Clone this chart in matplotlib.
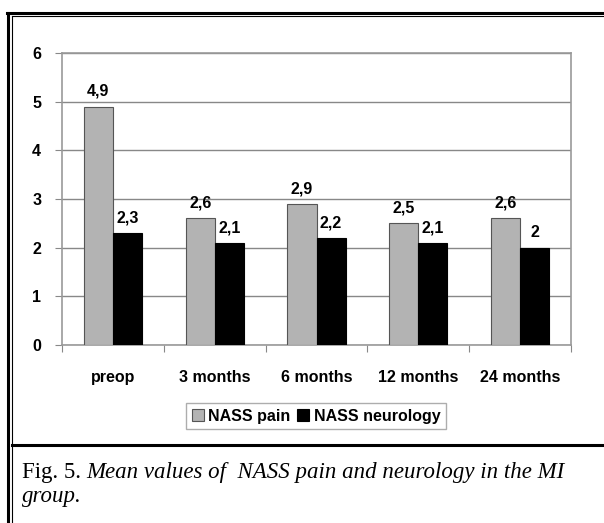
import numpy as np
import matplotlib
matplotlib.use("Agg")
import matplotlib.pyplot as plt
from matplotlib.lines import Line2D

categories = ["preop", "3 months", "6 months", "12 months", "24 months"]
nass_pain = [4.9, 2.6, 2.9, 2.5, 2.6]
nass_neurology = [2.3, 2.1, 2.2, 2.1, 2.0]
series_names = ["NASS pain", "NASS neurology"]


def fmt(v):
  s = ("%.1f" % v).rstrip("0").rstrip(".")
  return s.replace(".", ",")


def main():
  W, H = 604, 523
  fig = plt.figure(figsize=(W / 100, H / 100), dpi=100)
  narrow = ["Liberation Sans Narrow", "Liberation Sans", "DejaVu Sans"]

  ax = fig.add_axes([62 / W, 1 - 345 / H, (571 - 62) / W, (345 - 53) / H])
  x = np.arange(len(categories))
  bw = 0.285
  ax.bar(x - bw / 2, nass_pain, bw, color="#b3b3b3", edgecolor="#555555",
         linewidth=0.8, zorder=3, label=series_names[0])
  ax.bar(x + bw / 2, nass_neurology, bw, color="black", edgecolor="black",
         linewidth=0.8, zorder=3, label=series_names[1])

  for xi, v in zip(x - bw / 2, nass_pain):
    ax.annotate(fmt(v), (xi, v), xytext=(0, 11), textcoords="offset points",
                ha="center", va="center", fontsize=11.5, fontweight="bold",
                family=narrow)
  for xi, v in zip(x + bw / 2, nass_neurology):
    ax.annotate(fmt(v), (xi, v), xytext=(0, 11), textcoords="offset points",
                ha="center", va="center", fontsize=11.5, fontweight="bold",
                family=narrow)

  ax.set_xlim(-0.5, len(categories) - 0.5)
  ax.set_ylim(0, 6)
  ax.set_yticks(range(0, 7))
  ax.set_yticklabels([str(i) for i in range(0, 7)], fontsize=11.5,
                     fontweight="bold", family=narrow)
  ax.set_xticks(np.arange(-0.5, len(categories), 1.0))
  ax.set_xticklabels([])
  ax.set_xticks(x, minor=True)
  ax.set_xticklabels(categories, minor=True, fontsize=11.5, fontweight="bold",
                     family=narrow)
  ax.tick_params(axis="x", which="minor", length=0, pad=18)
  ax.tick_params(axis="x", which="major", length=5, color="#888888")
  ax.tick_params(axis="y", length=5, color="#888888", pad=10)
  ax.yaxis.grid(True, color="#888888", linewidth=1, zorder=0)
  for sp in ax.spines.values():
    sp.set_color("#999999")
    sp.set_linewidth(1.2)

  leg = fig.legend(loc="center", bbox_to_anchor=(316 / W, 1 - 416 / H), ncol=2,
                   prop={"family": narrow, "weight": "bold", "size": 11.5},
                   frameon=True, fancybox=False, edgecolor="#999999",
                   handlelength=0.75, handleheight=0.75, handletextpad=0.3,
                   columnspacing=0.4, borderpad=0.35)
  leg.get_frame().set_linewidth(1)

  # frame around the figure
  def fl(xs, ys, lw):
    fig.add_artist(Line2D([v / W for v in xs], [1 - v / H for v in ys],
                          color="black", linewidth=lw, transform=fig.transFigure))
  fl([8, 8], [13, H], 2.2)
  fl([12, 12], [16.5, H], 0.8)
  fl([7, W], [13, 13], 2.2)
  fl([12, W], [16.5, 16.5], 0.8)
  fl([12, W], [445, 445], 2.2)

  serif = ["Liberation Serif", "DejaVu Serif"]
  fig.canvas.draw()
  r = fig.canvas.get_renderer()
  t1 = fig.text(22 / W, 1 - 478 / H, "Fig. 5.", fontsize=16.5, family=serif,
                va="baseline", ha="left")
  bb = t1.get_window_extent(r)
  fig.text((bb.x1 + 5) / W, 1 - 478 / H,
           "Mean values of  NASS pain and neurology in the MI",
           fontsize=16.5, family=serif, style="italic", va="baseline", ha="left")
  fig.text(22 / W, 1 - 502 / H, "group.", fontsize=16.5, family=serif,
           style="italic", va="baseline", ha="left")

  fig.savefig("out.png", dpi=100)

main()
